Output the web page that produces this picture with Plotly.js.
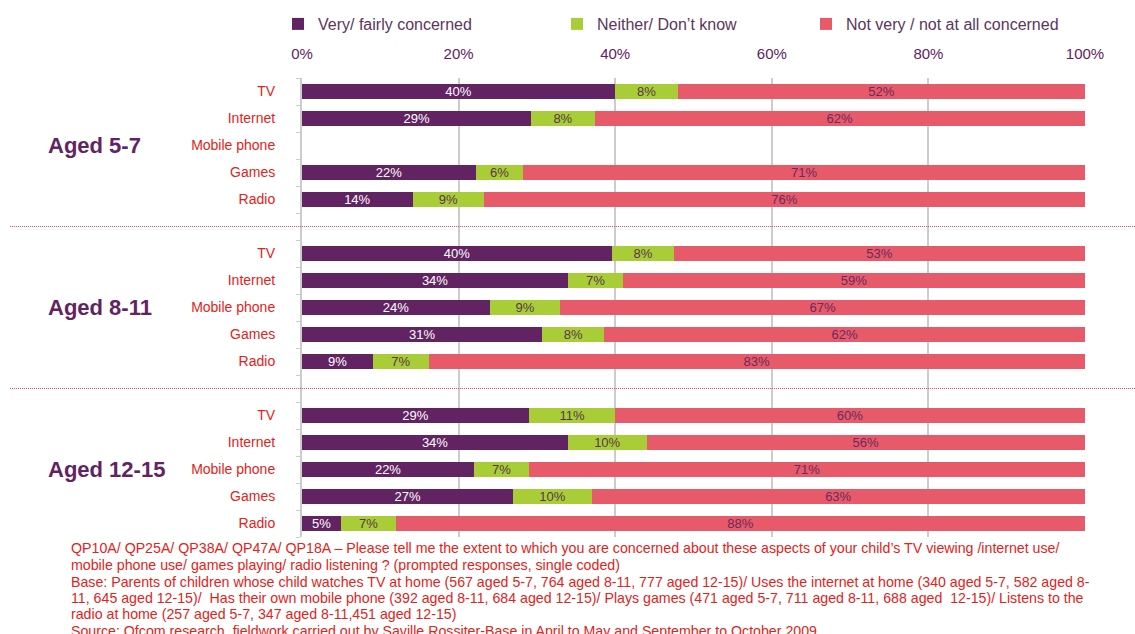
<!DOCTYPE html>
<html><head><meta charset="utf-8">
<script src="https://cdn.plot.ly/plotly-3.0.1.min.js"></script>
<style>body{margin:0;background:#fff}#chart{width:1135px;height:634px}</style>
</head><body><div id="chart"></div>
<script>
const groups = ['Aged 5-7', 'Aged 8-11', 'Aged 12-15'];
const media = ['TV', 'Internet', 'Mobile phone', 'Games', 'Radio'];
const seriesNames = ['Very/ fairly concerned', 'Neither/ Don\u2019t know', 'Not very / not at all concerned'];
// values per group, per medium (null = not asked)
const concerned5_7  = [40, 29, null, 22, 14];
const neither5_7    = [8, 8, null, 6, 9];
const notConc5_7    = [52, 62, null, 71, 76];
const concerned8_11 = [40, 34, 24, 31, 9];
const neither8_11   = [8, 7, 9, 8, 7];
const notConc8_11   = [53, 59, 67, 62, 83];
const concerned12_15= [29, 34, 22, 27, 5];
const neither12_15  = [11, 10, 7, 10, 7];
const notConc12_15  = [60, 56, 71, 63, 88];
const xTicks = [0, 20, 40, 60, 80, 100];
const footnote = [
 'QP10A/ QP25A/ QP38A/ QP47A/ QP18A \u2013 Please tell me the extent to which you are concerned about these aspects of your child\u2019s TV viewing /internet use/',
 'mobile phone use/ games playing/ radio listening ? (prompted responses, single coded)',
 'Base: Parents of children whose child watches TV at home (567 aged 5-7, 764 aged 8-11, 777 aged 12-15)/ Uses the internet at home (340 aged 5-7, 582 aged 8-',
 '11, 645 aged 12-15)/  Has their own mobile phone (392 aged 8-11, 684 aged 12-15)/ Plays games (471 aged 5-7, 711 aged 8-11, 688 aged  12-15)/ Listens to the',
 'radio at home (257 aged 5-7, 347 aged 8-11,451 aged 12-15)',
 'Source: Ofcom research, fieldwork carried out by Saville Rossiter-Base in April to May and September to October 2009'
];

const data3 = [
  [concerned5_7, neither5_7, notConc5_7],
  [concerned8_11, neither8_11, notConc8_11],
  [concerned12_15, neither12_15, notConc12_15]
];
const colors = ['#612362', '#a9cd37', '#e65a6a'];
const textColors = ['#ffffff', '#5a3550', '#6b2a5a'];
const legendIds = ['legend', 'legend2', 'legend3'];
const legendX = [278 / 1135, 557 / 1135, 806 / 1135];

// build category rows (with spacer rows between groups)
const cats = [], tickText = [], spacerCats = [];
groups.forEach((g, gi) => {
  media.forEach(m => { cats.push(g + '|' + m); tickText.push(m); });
  if (gi < groups.length - 1) { const s = 'spacer' + gi; cats.push(s); tickText.push(''); spacerCats.push(s); }
});

const traces = seriesNames.map((name, si) => {
  const x = [], y = [], text = [];
  groups.forEach((g, gi) => {
    media.forEach((m, mi) => {
      const vals = data3[gi].map(s => s[mi]);
      const v = vals[si];
      if (v === null) return;
      const tot = vals.reduce((a, b) => a + b, 0);
      x.push(v / tot * 100);
      y.push(g + '|' + m);
      text.push(v + '%');
    });
  });
  return {
    type: 'bar', orientation: 'h', name, x, y, text, legend: legendIds[si],
    textposition: 'inside', insidetextanchor: 'middle', constraintext: 'none',
    textfont: {family: 'Liberation Sans, Arial, sans-serif', size: 13, color: textColors[si]},
    marker: {color: colors[si]}, hoverinfo: 'name+text'
  };
});

const annotations = groups.map(g => ({
  xref: 'paper', yref: 'y', x: -0.3269, y: g + '|Mobile phone', xanchor: 'left', yanchor: 'middle',
  text: '<b>' + g + '</b>', showarrow: false,
  font: {family: 'Liberation Sans, Arial, sans-serif', size: 22, color: '#612362'}
}));
const footY = [549, 565.5, 582.5, 599, 615, 631.5];
footnote.forEach((line, i) => {
  annotations.push({
    xref: 'paper', yref: 'paper', x: -0.2975, y: (537.5 - footY[i]) / 460, xanchor: 'left', yanchor: 'middle', align: 'left',
    text: line, showarrow: false,
    font: {family: 'Liberation Sans, Arial, sans-serif', size: 14.2, color: '#e2231a'}
  });
});

const shapes = spacerCats.map(s => ({
  type: 'line', xref: 'paper', yref: 'y', x0: -0.373, x1: 1.064, y0: s, y1: s,
  line: {color: '#e0457a', width: 1, dash: '1px,1px'}
}));

const legendBase = {orientation: 'h', xref: 'container', yref: 'container', y: 1 - 24 / 634,
  xanchor: 'left', yanchor: 'middle',
  itemwidth: 30, font: {size: 16, color: '#5c3560'}, bgcolor: 'rgba(0,0,0,0)'};

const layout = {
  width: 1135, height: 634,
  margin: {l: 302, r: 50, t: 77.5, b: 96.5},
  barmode: 'stack', bargap: 0.44,
  paper_bgcolor: '#fff', plot_bgcolor: '#fff',
  font: {family: 'Liberation Sans, Arial, sans-serif'},
  showlegend: true,
  legend: Object.assign({}, legendBase, {x: legendX[0]}),
  legend2: Object.assign({}, legendBase, {x: legendX[1]}),
  legend3: Object.assign({}, legendBase, {x: legendX[2]}),
  xaxis: {side: 'top', range: [0, 100], tickvals: xTicks, ticktext: xTicks.map(v => v + '%'),
          showgrid: true, gridcolor: '#cccccc', gridwidth: 2, zeroline: false, ticks: '',
          ticklabelstandoff: 15, automargin: false,
          tickfont: {size: 15, color: '#612362'}, fixedrange: true},
  yaxis: {type: 'category', categoryorder: 'array', categoryarray: cats,
          tickvals: cats, ticktext: tickText, autorange: 'reversed',
          range: [cats.length - 0.5, -0.5], automargin: false,
          showline: true, linecolor: '#cccccc', linewidth: 2,
          ticks: 'outside', tickson: 'boundaries', ticklen: 4, tickcolor: '#cccccc', tickwidth: 1,
          showgrid: false, ticklabelstandoff: 22,
          tickfont: {size: 14, color: '#e2231a'}, fixedrange: true},
  annotations, shapes
};
Plotly.newPlot('chart', traces, layout, {displayModeBar: false, staticPlot: true});
</script></body></html>
